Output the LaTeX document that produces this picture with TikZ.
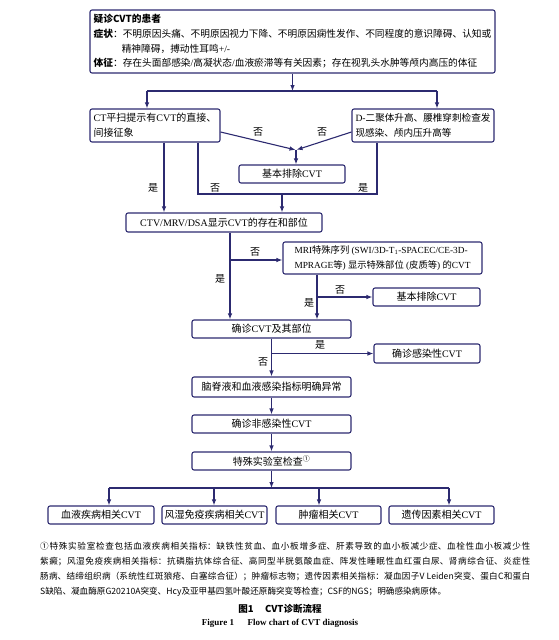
\documentclass[tikz,border=0pt]{standalone}
\usepackage{fontspec}
\setmainfont{Liberation Serif}
\newfontfamily\cjk{Noto Sans CJK SC}
\usepackage{tikz}
\usetikzlibrary{shapes,arrows.meta}
\definecolor{flowline}{RGB}{44,42,112}
\tikzset{>={Latex[length=6pt,width=4.6pt]}}
\tikzset{
  cbox/.style={rectangle, rounded corners=2pt, draw=flowline, line width=1.1pt, inner sep=2pt},
  arr/.style={->, draw=flowline, line width=1.1pt},
  lin/.style={draw=flowline, line width=1.1pt},
  yn/.style={inner sep=0pt}
}

% switch to the CJK font for Chinese characters
\XeTeXinterchartokenstate=1
\newXeTeXintercharclass\hanzi
\newcount\hzcode
\newcommand\sethanzi[2]{%
  \hzcode=#1\relax
  \loop \XeTeXcharclass\hzcode=\hanzi
  \ifnum\hzcode<#2\relax \advance\hzcode by 1 \repeat}
\sethanzi{"2460}{"24FF}
\sethanzi{"3000}{"303F}
\sethanzi{"4E00}{"9FFF}
\sethanzi{"FF00}{"FFEF}
\XeTeXinterchartoks 0 \hanzi = {\cjk}
\XeTeXinterchartoks 4095 \hanzi = {\cjk}
\XeTeXinterchartoks \hanzi 0 = {\rmfamily}
\XeTeXinterchartoks \hanzi 4095 = {\rmfamily}

\begin{document}
\begin{tikzpicture}[x=1pt, y=-1pt, font=\fontsize{10}{15}\selectfont]
  \useasboundingbox (0,0) rectangle (559,640);

  % boxes
  \node[cbox, minimum width=405pt, minimum height=63pt, align=left, %%
    font=\fontsize{9.7}{14.7}\selectfont] (pat) at (292.5,41.5) {%%
    {\XeTeXinterchartokenstate=0 \cjk\bfseries 疑诊CVT的患者}\\
    {\bfseries 症状}：不明原因头痛、不明原因视力下降、不明原因痫性发作、不同程度的意识障碍、认知或\\
    \hspace*{2.9em}精神障碍，搏动性耳鸣+/-\\
    {\bfseries 体征}：存在头面部感染/高凝状态/血液瘀滞等有关因素；存在视乳头水肿等颅内高压的体征};

  \node[cbox, minimum width=130pt, minimum height=33pt, align=left] (ct) %%
  at (155,125.5) {CT平扫提示有CVT的直接、\\间接征象};
  \node[cbox, minimum width=142pt, minimum height=33pt, align=left, %%
    font=\fontsize{9.6}{15}\selectfont] (dd) at (423,125.5) %%
  {D-二聚体升高、腰椎穿刺检查发\\现感染、颅内压升高等};
  \node[cbox, minimum width=106pt, minimum height=18pt] (ex1) at (292,174) {基本排除CVT};
  \node[cbox, minimum width=196pt, minimum height=19pt] (ctv) at (224,222.5) %%
  {CTV/MRV/DSA显示CVT的存在和部位};
  \node[cbox, minimum width=199pt, minimum height=32pt, align=left, %%
    font=\fontsize{9.3}{15}\selectfont] (mri) at (382.5,258) %%
  {MRI特殊序列 (SWI/3D-T\textsubscript{1}-SPACEC/CE-3D-\\MPRAGE等) 显示特殊部位 (皮质等) 的CVT};
  \node[cbox, minimum width=107pt, minimum height=18pt] (ex2) at (426.5,297) {基本排除CVT};
  \node[cbox, minimum width=159pt, minimum height=18pt] (conf) at (271.5,329) {确诊CVT及其部位};
  \node[cbox, minimum width=106pt, minimum height=19pt] (inf) at (427,353.5) {确诊感染性CVT};
  \node[cbox, minimum width=159pt, minimum height=20pt] (csf) at (271.5,387) %%
  {脑脊液和血液感染指标明确异常};
  \node[cbox, minimum width=159pt, minimum height=18pt] (ninf) at (271.5,424) {确诊非感染性CVT};
  \node[cbox, minimum width=159pt, minimum height=18pt] (lab) at (271.5,461) %%
  {特殊实验室检查\textsuperscript{①}};
  \foreach \i/\x/\w/\t in {1/101/106/血液疾病相关CVT, 2/214.5/105/风湿免疫疾病相关CVT, %%
    3/328.5/105/肿瘤相关CVT, 4/441.5/105/遗传因素相关CVT}
  \node[cbox, minimum width=\w pt, minimum height=18pt] (b\i) at (\x,515) {\t};

  % connectors
  \coordinate (j0) at (292.5,91);
  \coordinate (jl) at (147,91);
  \coordinate (jr) at (437,91);
  \draw[arr] (pat.south) -- (j0);
  \draw[lin] (jl) -- (jr);
  \draw[arr] (jl) -- (jl |- ct.north);
  \draw[arr] (jr) -- (jr |- dd.north);

  \coordinate (j1) at (296,150);
  \draw[arr, shorten >=0.5pt] ([yshift=-6.5pt]ct.east) -- (j1);
  \draw[arr, shorten >=0.5pt] ([yshift=-6.5pt]dd.west) -- (j1);
  \draw[arr] (j1) -- (j1 |- ex1.north);
  \node[yn] (no1) at (258,132) {否};
  \node[yn] (no2) at (322,132) {否};

  \draw[arr] ([xshift=9pt]ct.south) -- ([xshift=9pt]ct.south |- ctv.north);
  \coordinate (j2) at (282,194);
  \draw[lin] ([xshift=43pt]ct.south) |- (j2) -| ([xshift=-46pt]dd.south);
  \draw[arr] (j2) -- (j2 |- ctv.north);
  \node[yn] (yes1) at (153,188) {是};
  \node[yn] (no3) at (215,188) {否};
  \node[yn] (yes2) at (363,188) {是};

  \draw[arr] ([xshift=6pt]ctv.south) -- ([xshift=6pt]ctv.south |- conf.north);
  \coordinate (j3) at (230,260);
  \draw[arr] (j3) -- (j3 -| mri.west);
  \node[yn] (no4) at (255,252) {否};
  \node[yn] (yes3) at (220,279) {是};

  \draw[arr] ([xshift=-65.5pt]mri.south) -- ([xshift=-65.5pt]mri.south |- conf.north);
  \coordinate (j4) at (317,297);
  \draw[arr] (j4) -- (ex2.west);
  \node[yn] (no5) at (340,290) {否};
  \node[yn] (yes4) at (309,303) {是};

  \draw[arr] (conf.south) -- (csf.north);
  \coordinate (j5) at (271.5,353.5);
  \draw[arr] (j5) -- (inf.west);
  \node[yn] (yes5) at (320,345) {是};
  \node[yn] (no6) at (263,362) {否};

  \draw[arr] (csf.south) -- (ninf.north);
  \draw[arr] (ninf.south) -- (lab.north);
  \coordinate (j6) at (271.5,488);
  \draw[arr] (lab.south) -- (j6);
  \draw[lin] (109,488) -- (449,488);
  \foreach \i/\x in {1/109, 2/214, 3/319, 4/449} {
    \coordinate (t\i) at (\x,488);
    \draw[arr] (t\i) -- (t\i |- b\i.north);
  }

  % note and caption
  \node[anchor=north west, inner sep=0pt, text width=490pt, align=justify] (note) at (40,542) {%%
    \XeTeXinterchartokenstate=0 \XeTeXlinebreaklocale "zh"%%
    \XeTeXlinebreakskip=0pt plus 2pt\cjk\fontsize{8.6}{12.4}\selectfont
    ①特殊实验室检查包括血液疾病相关指标：缺铁性贫血、血小板增多症、肝素导致的血小板减少症、血栓性血小板减少性\linebreak
    紫癜；风湿免疫疾病相关指标：抗磷脂抗体综合征、高同型半胱氨酸血症、阵发性睡眠性血红蛋白尿、肾病综合征、炎症性\linebreak
    肠病、结缔组织病（系统性红斑狼疮、白塞综合征）；肿瘤标志物；遗传因素相关指标：凝血因子V Leiden突变、蛋白C和蛋白\linebreak
    S缺陷、凝血酶原G20210A突变、Hcy及亚甲基四氢叶酸还原酶突变等检查；CSF的NGS；明确感染病原体。};
  \node (capzh) at (280,609) {\XeTeXinterchartokenstate=0 \cjk\bfseries\fontsize{9.5}{11}\selectfont 图1\hspace{1.2em}CVT诊断流程};
  \node (capen) at (280,623) {\bfseries\fontsize{9}{11}\selectfont Figure 1\hspace{1.5em}Flow chart of CVT diagnosis};
\end{tikzpicture}
\end{document}
